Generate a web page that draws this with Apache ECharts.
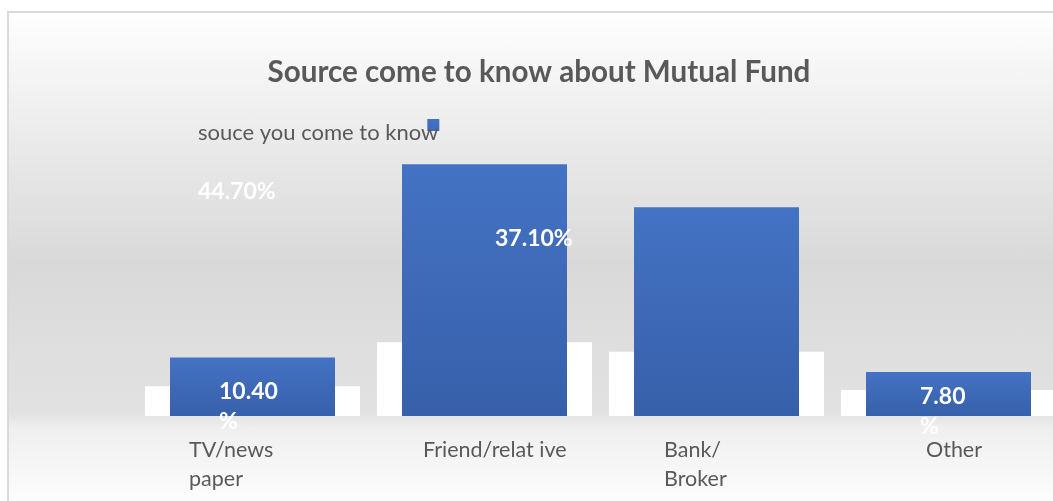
<!DOCTYPE html>
<html>
<head>
<meta charset="utf-8">
<script src="https://cdn.jsdelivr.net/npm/echarts@6/dist/echarts.min.js"></script>
<style>
  html, body { margin: 0; padding: 0; background: #ffffff; overflow: hidden; }
  #panel {
    position: absolute; left: 7px; top: 11px; width: 1060px; height: 500px;
    border-left: 2px solid #d9d9d9; border-top: 2px solid #d9d9d9;
    background: linear-gradient(to bottom,
      #fefefe 0%, #e7e7e7 30%, #d9d9d9 50%, #e2e2e2 80%, #efefef 83%, #ffffff 100%);
  }
  #chart { position: absolute; left: 0; top: 0; width: 1053px; height: 501px; }
</style>
</head>
<body>
<div id="panel"></div>
<div id="chart"></div>
<script>
// Where respondents first heard about mutual funds (percent of respondents)
const categories = ['TV/news\npaper', 'Friend/relat ive', 'Bank/\nBroker', 'Other'];
const shares = [10.4, 44.7, 37.1, 7.8];
const seriesName = 'souce you come to know';
const chartTitle = 'Source come to know about Mutual Fund';
// white floor blocks drawn behind each bar
const floorBlocks = [5.3, 13.1, 11.4, 4.6];

// label placement for each bar: offset from the bar's top-left corner, and whether "%" wraps
const labelPlacement = [
  { pos: [49, 19], wrap: true },
  { pos: [-204, 12], wrap: false },
  { pos: [-139, 16], wrap: false },
  { pos: [54, 9], wrap: true }
];
// width of each category label block (text is left aligned inside it)
const tickBlockWidths = [127, 123, 105, 45];

const barFill = new echarts.graphic.LinearGradient(0, 0, 0, 1, [
  { offset: 0, color: '#4472c4' },
  { offset: 1, color: '#3760a9' }
]);

// legend swatch: a 12px square sitting high in a 12x28 icon box (the speck at the bottom sets the box)
const legendIcon = 'path://M0,0h12v12h-12zM0,28h0.01v-0.01h-0.01z';

const rich = {};
tickBlockWidths.forEach(function (w, i) {
  rich['t' + i] = {
    width: w, align: 'left', fontFamily: 'Lato', fontSize: 21.5,
    color: '#595959', lineHeight: 29
  };
});

const barData = shares.map(function (v, i) {
  const p = labelPlacement[i];
  return {
    value: v,
    label: {
      position: p.pos,
      formatter: function (d) {
        return d.value.toFixed(2) + (p.wrap ? '\n%' : '%');
      }
    }
  };
});

const chart = echarts.init(document.getElementById('chart'), null, { renderer: 'canvas' });
chart.setOption({
  backgroundColor: 'transparent',
  animation: false,
  title: {
    text: chartTitle,
    left: 534,
    textAlign: 'center',
    top: 52,
    textStyle: { fontFamily: 'Lato', fontWeight: 'bold', fontSize: 29.6, color: '#595959' }
  },
  legend: {
    left: 193,
    top: 114,
    align: 'right',
    itemWidth: 12,
    itemHeight: 28,
    icon: legendIcon,
    data: [{ name: seriesName, itemStyle: { color: barFill } }],
    textStyle: { fontFamily: 'Lato', fontSize: 22, color: '#595959', padding: [0, -16, 0, 0] }
  },
  grid: { left: 136.5, width: 928, top: 134.5, bottom: 85, outerBoundsMode: 'none', containLabel: false },
  xAxis: [
    {
      type: 'category',
      data: categories,
      axisLine: { show: false },
      axisTick: { show: false },
      axisLabel: {
        interval: 0,
        margin: 20,
        formatter: function (value, idx) {
          return value.split('\n').map(function (line) {
            return '{t' + idx + '|' + line + '}';
          }).join('\n');
        },
        rich: rich
      }
    },
    {
      type: 'category',
      data: categories,
      show: false
    }
  ],
  yAxis: {
    type: 'value',
    min: 0,
    max: 50,
    show: false,
    splitLine: { show: false }
  },
  series: [
    {
      name: 'floor',
      type: 'bar',
      xAxisIndex: 1,
      data: floorBlocks,
      barWidth: 215,
      z: 1,
      silent: true,
      itemStyle: { color: '#ffffff' },
      label: { show: false }
    },
    {
      name: seriesName,
      type: 'bar',
      xAxisIndex: 0,
      data: barData,
      barWidth: 165,
      z: 2,
      itemStyle: { color: barFill },
      label: {
        show: true,
        align: 'left',
        verticalAlign: 'top',
        fontFamily: 'Lato',
        fontWeight: 'bold',
        fontSize: 23,
        lineHeight: 30,
        color: '#ffffff'
      }
    }
  ]
});
</script>
</body>
</html>
